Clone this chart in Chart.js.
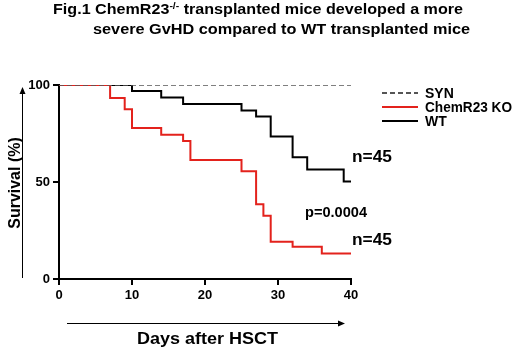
<!DOCTYPE html>
<html lang="en">
<head>
<meta charset="UTF-8">
<title>Fig.1 ChemR23 KO vs WT survival</title>
<script src="https://cdn.jsdelivr.net/npm/chart.js"></script>
<style>
  body { margin: 0; background: #fff; }
  #wrap { width: 520px; height: 348px; }
</style>
</head>
<body>
<div id="wrap"><canvas id="km" width="520" height="348"></canvas></div>
<script>
// Kaplan-Meier steps (day, survival %)
const synDays = [0, 40];
const synSurv = [100, 100];
const koDays = [0, 7, 9, 10, 14, 17, 18, 25, 27, 28, 29, 32, 36, 40];
const koSurv = [100, 93.3, 87.5, 77.8, 74.4, 71.1, 61.3, 55.6, 38.5, 32.6, 19.2, 16.6, 13.2, 13.2];
const wtDays = [0, 10, 14, 17, 25, 27, 29, 32, 34, 39, 40];
const wtSurv = [100, 96.9, 93.6, 90.2, 86.8, 83.7, 73.4, 62.7, 56.5, 50.2, 50.2];

const xTicks = [0, 10, 20, 30, 40];
const yTicks = [0, 50, 100];

const seriesNames = ['SYN', 'ChemR23 KO', 'WT'];
const groupN = ['n=45', 'n=45'];
const pValue = 'p=0.0004';

const RED = '#e3221c';
const FONT = '"Liberation Sans", Arial, sans-serif';

const pts = (xs, ys) => xs.map((d, i) => ({ x: d, y: ys[i] }));

// squeeze a text run to a given width (the original type is very tight)
function fitText(ctx, parts, x, y, width) {
    let total = 0;
    parts.forEach(p => { ctx.font = p.font; total += ctx.measureText(p.t).width; });
    const s = width ? width / total : 1;
    ctx.save();
    ctx.translate(x, y);
    ctx.scale(s, 1);
    let cx = 0;
    parts.forEach(p => {
        ctx.font = p.font;
        ctx.fillText(p.t, cx, p.dy || 0);
        cx += ctx.measureText(p.t).width;
    });
    ctx.restore();
}

const extras = {
    id: 'extras',
    afterDraw(chart) {
        const ctx = chart.ctx;
        const xs = chart.scales.x, ys = chart.scales.y;
        ctx.save();
        ctx.fillStyle = '#000';
        ctx.strokeStyle = '#000';
        ctx.textBaseline = 'alphabetic';
        ctx.textAlign = 'left';

        // title
        const tf = 'bold 14px ' + FONT;
        fitText(ctx, [
            { t: 'Fig.1 ChemR23', font: tf },
            { t: '-/-', font: 'bold 9px ' + FONT, dy: -5 },
            { t: ' transplanted mice developed a more', font: tf }
        ], 53, 14, 410);
        fitText(ctx, [{ t: 'severe GvHD compared to WT transplanted mice', font: tf }], 93, 34, 377);

        // y axis title with arrow
        ctx.save();
        ctx.translate(20, 183);
        ctx.rotate(-Math.PI / 2);
        ctx.textAlign = 'center';
        ctx.font = 'bold 16px ' + FONT;
        ctx.fillText('Survival (%)', 0, 0, 100);
        ctx.restore();
        ctx.lineWidth = 1;
        ctx.beginPath(); ctx.moveTo(22.5, 278); ctx.lineTo(22.5, 92); ctx.stroke();
        ctx.beginPath(); ctx.moveTo(22.5, 87); ctx.lineTo(19.5, 94); ctx.lineTo(25.5, 94); ctx.closePath(); ctx.fill();

        // x axis title with arrow
        ctx.beginPath(); ctx.moveTo(67, 323.5); ctx.lineTo(340, 323.5); ctx.stroke();
        ctx.beginPath(); ctx.moveTo(345, 323.5); ctx.lineTo(338, 320.5); ctx.lineTo(338, 326.5); ctx.closePath(); ctx.fill();
        ctx.textAlign = 'left';
        fitText(ctx, [{ t: 'Days after HSCT', font: 'bold 16px ' + FONT }], 137, 344, 141);

        // legend
        const ds = chart.data.datasets;
        const legY = [93, 107, 121];
        ds.forEach((d, i) => {
            ctx.save();
            ctx.strokeStyle = d.borderColor;
            ctx.lineWidth = 2;
            ctx.setLineDash(d.borderDash || []);
            ctx.beginPath(); ctx.moveTo(382, legY[i]); ctx.lineTo(418, legY[i]); ctx.stroke();
            ctx.restore();
            ctx.textBaseline = 'middle';
            fitText(ctx, [{ t: d.label, font: 'bold 14px ' + FONT }], 425, legY[i] + 1,
                i === 1 ? 87 : null);
        });

        // n and p annotations
        ctx.textBaseline = 'middle';
        const xr = xs.getPixelForValue(40) + 1;
        fitText(ctx, [{ t: groupN[0], font: 'bold 16px ' + FONT }], xr, ys.getPixelForValue(62.5), 40);
        fitText(ctx, [{ t: pValue, font: 'bold 14px ' + FONT }], xs.getPixelForValue(33.7), ys.getPixelForValue(34), 62);
        fitText(ctx, [{ t: groupN[1], font: 'bold 16px ' + FONT }], xr, ys.getPixelForValue(20), 40);
        ctx.restore();
    }
};

const axisCommon = {
    type: 'linear',
    grid: { drawOnChartArea: false, drawTicks: true, tickLength: 6, color: '#000', lineWidth: 2 },
    border: { display: true, color: '#000', width: 2 },
    ticks: { color: '#000', font: { family: FONT, size: 13, weight: 'bold' }, padding: 3 }
};

new Chart(document.getElementById('km'), {
    type: 'line',
    data: {
        datasets: [
            { label: seriesNames[0], data: pts(synDays, synSurv), borderColor: '#555', borderWidth: 1.5,
              borderDash: [5, 3], stepped: 'before', pointRadius: 0 },
            { label: seriesNames[1], data: pts(koDays, koSurv), borderColor: RED, borderWidth: 2,
              stepped: 'before', pointRadius: 0 },
            { label: seriesNames[2], data: pts(wtDays, wtSurv), borderColor: '#000', borderWidth: 2,
              stepped: 'before', pointRadius: 0 }
        ]
    },
    options: {
        responsive: false,
        animation: false,
        devicePixelRatio: 1,
        layout: { padding: { top: 85, right: 169, left: 0, bottom: 0 } },
        plugins: { legend: { display: false }, tooltip: { enabled: false } },
        scales: {
            x: Object.assign({}, axisCommon, {
                min: 0, max: 40,
                afterBuildTicks: s => { s.ticks = xTicks.map(v => ({ value: v })); },
                afterFit: s => { s.height = 69; }
            }),
            y: Object.assign({}, axisCommon, {
                min: 0, max: 100,
                afterBuildTicks: s => { s.ticks = yTicks.map(v => ({ value: v })); },
                afterFit: s => { s.width = 59; }
            })
        }
    },
    plugins: [extras]
});
</script>
</body>
</html>
